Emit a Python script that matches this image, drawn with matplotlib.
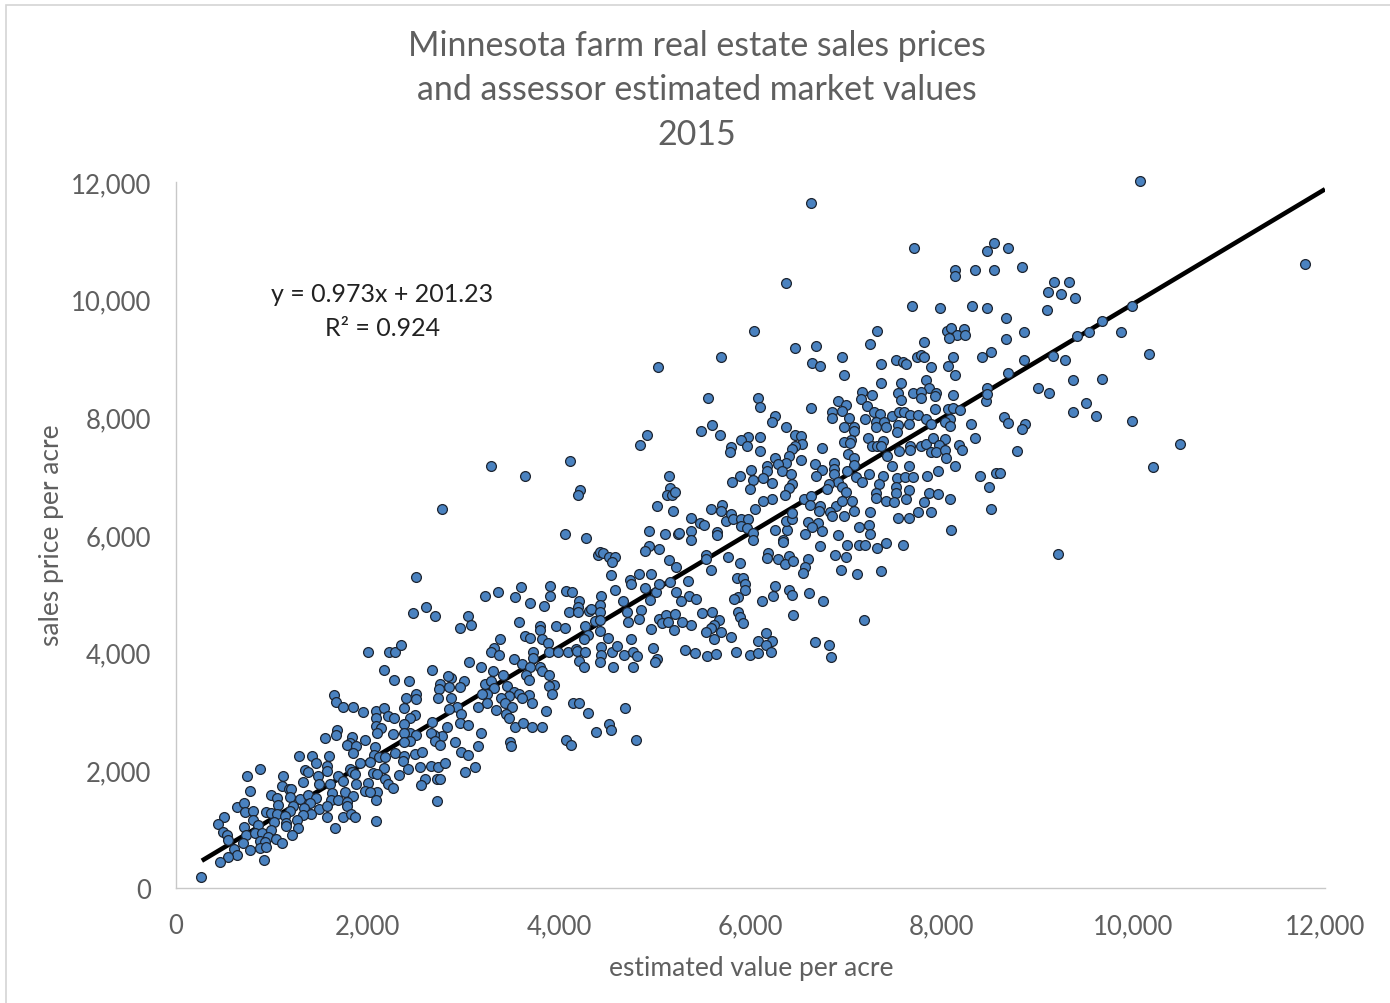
import matplotlib
matplotlib.use("Agg")
import matplotlib.pyplot as plt
from matplotlib.patches import Rectangle
from matplotlib.ticker import FuncFormatter

title_lines = ["Minnesota farm real estate sales prices", "and assessor estimated market values", "2015"]
x_label = "estimated value per acre"
y_label = "sales price per acre"
eq_text = "y = 0.973x + 201.23"
r2_text = "R² = 0.924"
slope = 0.973
intercept = 201.23
trend_start = 270
trend_end = 12000
ticks = [0, 2000, 4000, 6000, 8000, 10000, 12000]

points_low = [(2019,4005),(2235,4005),(2297,4005),(2186,3711),(2291,3541),(1660,3280),(1678,3155),(1751,3082),(1859,3082),(1960,2986),
(2096,3014),(2186,3053),(2221,2929),(2291,2883),(2099,2883),(2099,2759),(2158,2719),(2113,2634),(2280,2617),(1695,2691),
(1678,2600),(1566,2543),(1845,2560),(1828,2464),(1793,2436),(1897,2419),(1991,2521),(2089,2391),(1862,2294),(2082,2260),
(2130,2220),(2193,2220),(2298,2294),(1295,2249),(1434,2249),(1612,2249),(1479,2124),(1584,2079),(1932,2119),(2036,2147),
(888,2022),(755,1909),(1131,1909),(1358,2005),(1392,1977),(1584,1994),(1828,2022),(2186,2039),(1845,1977),(1880,1937),
(2071,1949),(2113,1937),(1497,1898),(1699,1909),(1340,1796),(1507,1767),(1619,1767),(1751,1824),(1890,1767),(2019,1779),
(2193,1852),(2228,1767),(2280,1694),(783,1654),(1114,1727),(1194,1682),(1218,1682),(1009,1586),(1062,1524),(1201,1541),
(1305,1512),(1392,1586),(1479,1529),(1643,1614),(1775,1626),(1862,1569),(1984,1643),(2106,1626),(2036,1626),(2096,1501),
(1636,1501),(1706,1501),(1793,1456),(1410,1444),(1236,1399),(1079,1410),(644,1382),(724,1439),(731,1286),(818,1303),
(950,1286),(1009,1269),(1062,1257),(1201,1303),(1351,1354),(1504,1342),(1591,1388),(1793,1388),(1149,1229),(1427,1257),
(1340,1246),(1584,1212),(1751,1212),(1838,1257),(1880,1201),(2096,1133),(515,1212),(453,1087),(818,1155),(870,1076),
(1037,1116),(1166,1104),(1271,1161),(1166,1048),(1288,1014),(1671,1014),(724,1042),(498,946),(547,906),(738,906),
(835,929),(905,935),(1009,985),(1225,906),(557,815),(968,861),(1055,832),(714,764),(888,804),(940,775),
(1124,764),(620,662),(783,645),(888,679),(947,691),(654,566),(557,521),(470,447),(933,481),(272,181),
(2395,2249),(2506,2277),(2576,2306),(2385,2164),(2339,1920),(2430,2022),(2559,2051),(2673,2079),(2750,2051),(2820,2119),
(2611,1852),(2566,1750),(2740,1852),(2774,1852),(3028,1977),(2743,1473),(2987,2317),(3063,2260),(3133,2051)]

points_mid = [(4932,7700),(4856,7530),(3303,7179),(3662,7009),(4132,7252),(4229,6765),(4208,6686),(2792,6442),(5159,7009),(5176,6793),
(5141,6686),(5193,6686),(5228,6725),(5037,6488),(5204,6414),(4073,6023),(4299,5955),(4950,6074),(5124,6023),(5252,6023),
(4950,5819),(4915,5722),(5054,5762),(4417,5660),(4445,5706),(4469,5694),(4532,5621),(4602,5621),(4567,5536),(5159,5581),
(5235,5462),(2520,5286),(4556,5320),(4751,5241),(4765,5167),(4845,5337),(4978,5337),(5176,5207),(4915,5094),(5030,5026),
(5054,5167),(4967,4901),(5235,5026),(4602,5065),(3620,5111),(3923,5139),(3923,4969),(4080,5043),(4149,5026),(4452,4969),
(3244,4969),(3376,5026),(3557,4941),(3714,4844),(3860,4799),(4219,4873),(4445,4816),(4678,4873),(4208,4771),(4121,4697),
(4212,4697),(4323,4703),(4351,4742),(4438,4686),(4723,4697),(4873,4725),(4734,4527),(4845,4572),(5054,4572),(5134,4640),
(5221,4657),(5089,4504),(5152,4527),(4974,4402),(5218,4385),(4393,4544),(4445,4561),(4288,4448),(4435,4363),(4316,4306),
(4271,4232),(4525,4249),(4765,4232),(2489,4674),(2628,4771),(2715,4629),(3063,4629),(3094,4476),(2983,4419),(3592,4527),
(3818,4448),(3818,4391),(3982,4448),(4073,4419),(3662,4278),(3704,4249),(3836,4232),(3895,4159),(3394,4232),(2363,4136),
(3338,4074),(3303,4006),(3383,3960),(3742,4017),(3742,3910),(3905,4006),(3999,4006),(4107,4006),(4194,4062),(4201,4034),
(4288,4006),(4452,4091),(4452,3960),(4438,3836),(4567,4006),(4619,4108),(4696,3960),(4786,4017),(4828,3938),(4995,4079),
(4226,3864),(4271,3762),(4574,3762),(4786,3762),(5037,3893),(5019,3836),(3077,3836),(3199,3762),(3547,3893),(3627,3808),
(3714,3762),(3818,3762),(3836,3694),(3321,3694),(2687,3711),(2879,3564),(2851,3598),(2774,3468),(3018,3524),(2973,3422),
(2868,3422),(2757,3382),(2443,3513),(2520,3297),(2416,3229),(2520,3212),(2746,3224),(2886,3224),(3244,3468),(3307,3513),
(3429,3620),(3470,3439),(3338,3394),(3261,3297),(3209,3297),(3669,3620),(3697,3541),(3905,3620),(3965,3450),(3905,3428),
(3940,3297),(3540,3326),(3488,3269),(3592,3297),(3697,3280),(3411,3224),(3627,3224),(3731,3145),(3453,3145),(3523,3071),
(3261,3145),(3167,3082),(3349,3025),(2948,3082),(2861,3043),(2990,2958),(2398,3054),(2503,2946),(2454,2884),(3463,2958),
(3488,2884),(3881,3003),(4160,3145),(4226,3145),(4316,2974),(4706,3054),(2687,2827),(2983,2804),(3063,2776),(2844,2742),
(3557,2731),(3637,2804),(3731,2731),(3836,2731),(4539,2787),(4556,2686),(4403,2657),(3199,2634),(4090,2516),(4139,2436),
(4811,2516),(3505,2476),(3512,2419),(3167,2419),(2931,2487),(2792,2578),(2704,2606),(2670,2634),(2722,2493),(2764,2436),
(2398,2788),(2461,2634),(2520,2606),(2391,2634),(2461,2504),(2391,2487)]

points_high = [(5706,9020),(6472,9173),(6698,9219),(7255,9247),(7823,9275),(6970,9020),(6656,8924),(6743,8879),(7377,8901),(7527,8969),
(7603,8947),(7641,8901),(7753,9020),(7795,9066),(7823,9020),(7892,8850),(8070,8879),(8132,9020),(8146,8726),(8432,9020),
(8526,9117),(6987,8726),(7377,8584),(7579,8584),(7847,8635),(7878,8499),(7711,8414),(7788,8425),(7788,8323),(7951,8414),
(7937,8357),(8132,8386),(7555,8414),(7589,8301),(7179,8425),(7161,8312),(7286,8386),(7231,8199),(6924,8284),(7005,8216),
(6970,8114),(6865,8097),(6858,7989),(7039,7989),(7300,8097),(7367,8057),(7492,8029),(7562,8097),(7614,8097),(7676,8046),
(7760,8046),(7840,7972),(7937,8142),(8077,8142),(8132,8159),(8198,8131),(8091,7972),(8042,7915),(8091,7859),(8317,7893),
(8359,7649),(8467,8272),(8484,8493),(8484,8397),(6642,8159),(6092,8329),(6110,8182),(5570,8329),(6263,8017),(6232,7915),
(5612,7870),(5490,7768),(5689,7695),(6385,7842),(6984,7842),(7098,7830),(7092,7762),(7213,7972),(7318,7915),(7405,7915),
(7325,7830),(7429,7842),(7555,7870),(7544,7745),(7666,7893),(7899,7893),(7241,7649),(7398,7604),(7057,7621),(6987,7575),
(7046,7564),(7283,7519),(7335,7519),(7380,7519),(7676,7519),(7788,7519),(7847,7547),(7920,7649),(8042,7632),(7979,7536),
(7899,7406),(7951,7406),(8042,7445),(8188,7530),(8223,7445),(7676,7445),(7561,7428),(7440,7349),(8056,7304),(8146,7179),
(7666,7179),(7492,7168),(6472,7695),(6535,7678),(6552,7547),(6472,7519),(6448,7462),(6110,7672),(5988,7672),(5911,7621),
(5978,7519),(5811,7491),(5793,7406),(6110,7423),(6761,7479),(6535,7281),(7032,7377),(7098,7304),(7098,7190),(6273,7304),
(6413,7349),(6385,7224),(6298,7207),(6186,7168),(6186,7083),(6336,7083),(6430,7037),(6019,7105),(5898,7009),(6141,6964),
(6037,6935),(5821,6907),(6232,6884),(6002,6782),(6441,6867),(6413,6799),(6371,6686),(6232,6612),(6141,6584),(6054,6442),
(6681,7207),(6761,7105),(6698,7009),(6883,7224),(6883,7122),(6883,7037),(7015,7083),(7109,6981),(7248,7037),(7179,6907),
(7394,7009),(7353,6862),(7544,6964),(7624,6981),(7711,6981),(7857,7009),(7969,7083),(8404,7009),(8578,7054),(8508,6811),
(8526,6442),(6928,6907),(6831,6862),(6806,6782),(6970,6822),(7005,6737),(7318,6714),(7318,6624),(7527,6811),(7527,6714),
(7666,6765),(7422,6584),(7509,6567),(7638,6612),(7875,6714),(7972,6697),(8091,6612),(7829,6567),(6569,6612),(6642,6669),
(6632,6516),(6743,6499),(6900,6499),(6970,6584),(7074,6584),(6726,6414),(6841,6386),(6865,6318),(6987,6318),(7092,6414),
(7255,6397),(7760,6397),(7892,6397),(7555,6295),(7666,6295),(5595,6442),(5717,6516),(5706,6414),(5389,6295),(5480,6204),
(5525,6170),(5389,6074),(5389,5921),(5264,6029),(5657,6057),(5657,6006),(5751,6244),(5811,6357),(5828,6272),(5918,6272),
(5988,6272),(5918,6148),(5978,6119),(6037,6029),(6037,5921),(6273,6091),(6395,6091),(6385,6244),(6448,6272),(6448,6374),
(6611,6227),(6716,6199),(6656,6142),(6761,6074),(6580,6017),(6928,6000),(7144,6131),(7248,6170),(7255,6017),(8101,6091),
(6350,5921),(6350,5876),(6743,5808),(7015,5830),(7144,5830),(7213,5830),(7335,5779),(7429,5859),(7603,5830),(5549,5660),
(5549,5592),(5779,5632),(5898,5519),(5602,5411),(6197,5689),(6186,5610),(6301,5592),(6413,5638),(6371,5507),(6458,5553),
(6611,5592),(6580,5462),(6562,5354),(6893,5660),(7005,5632),(6959,5411),(7123,5337),(7377,5383),(5358,5213),(5866,5269),
(5936,5269),(5950,5167),(5950,5071),(5884,4941),(5838,4912),(6263,5139),(6246,4969),(6413,5071),(6448,4986),(6622,5014),
(6771,4873),(6127,4873),(5368,4969),(5445,4912),(5281,4873),(6458,4646),(7196,4556),(5501,4669),(5612,4686),(5884,4686),
(5901,4612),(5682,4556),(5630,4476),(5595,4420),(5932,4499),(5386,4476),(5299,4516),(5549,4346),(5699,4357),(5630,4233),
(5811,4261),(6169,4335),(6092,4204),(6232,4204),(6176,4131),(6221,4006),(5856,4017),(6002,3966),(6092,3995),(6681,4187),
(6837,4136),(6848,3932),(5327,4051),(5431,3989),(5560,3949),(5647,3978)]

points_top = [(10080,12020),(6640,11650),(11800,10600),(7720,10870),(6380,10280),(8560,10970),(8480,10820),(8700,10870),(8850,10550),(8560,10510),
(8360,10510),(8150,10500),(8150,10400),(9180,10300),(9340,10300),(9120,10130),(9250,10090),(9400,10020),(9110,9820),(8330,9890),
(8480,9860),(7700,9890),(7990,9860),(10000,9890),(9680,9640),(9880,9450),(9550,9450),(9420,9380),(6050,9470),(7330,9470),
(8240,9500),(8060,9470),(8110,9510),(8170,9400),(8250,9400),(8090,9350),(8680,9680),(8870,9450),(10170,9080),(8680,9330),
(8870,8980),(9170,9050),(9300,8970),(8700,8750),(9380,8630),(9680,8660),(9520,8240),(9620,8020),(9380,8090),(10000,7930),
(10220,7150),(10500,7550),(9220,5680),(9010,8500),(9130,8420),(8660,8000),(8700,7900),(8880,7880),(8850,7800),(8800,7430),
(8620,7050),(5050,8860)]

W, H = 1390, 1004
fig = plt.figure(figsize=(W / 100, H / 100), dpi=100, facecolor="white")
plt.rcParams["font.family"] = ["Lato", "DejaVu Sans"]
fig.add_artist(Rectangle((6 / W, -0.01), (W + 20) / W, 1 - 6 / H + 0.01, transform=fig.transFigure,
                         fill=False, edgecolor="#d4d4d4", linewidth=1.2))
ax = fig.add_axes([176 / W, 1 - 889 / H, (1325 - 176) / W, (889 - 183) / H])
ax.set_xlim(0, 12000)
ax.set_ylim(0, 12000)

xs_trend = [trend_start, trend_end]
ys_trend = [slope * v + intercept for v in xs_trend]
ax.plot(xs_trend, ys_trend, color="black", lw=3.3, zorder=2, solid_capstyle="butt")

all_pts = points_low + points_mid + points_high + points_top
ax.scatter([p[0] - 12 for p in all_pts], [p[1] for p in all_pts], s=50, color="#4a82c0",
           edgecolor="#1c2430", linewidth=0.9, zorder=3, clip_on=False)

for s in ("top", "right"):
    ax.spines[s].set_visible(False)
for s in ("left", "bottom"):
    ax.spines[s].set_color("#c8c8c8")
    ax.spines[s].set_linewidth(1.0)
ax.set_xticks(ticks)
ax.set_yticks(ticks)
fmt = FuncFormatter(lambda v, _: f"{int(v):,}")
ax.xaxis.set_major_formatter(fmt)
ax.yaxis.set_major_formatter(fmt)
ax.tick_params(length=0, labelsize=18.5, labelcolor="#5f5f5f", pad=18)
ax.tick_params(axis="x", pad=18)

def px(x, y):
    return x / W, 1 - y / H

for line, y in zip(title_lines, (46, 90, 135)):
    fig.text(*px(697, y), line, ha="center", va="center", fontsize=24.4, color="#5f5f5f")
fig.text(*px(751, 969), x_label, ha="center", va="center", fontsize=19, color="#5f5f5f")
fig.text(*px(52, 535), y_label, ha="center", va="center", rotation=90, fontsize=19, color="#5f5f5f")
fig.text(*px(382, 295), eq_text, ha="center", va="center", fontsize=18, color="#222222")
fig.text(*px(383, 329), r2_text, ha="center", va="center", fontsize=18, color="#222222")

fig.savefig("out.png", dpi=100)
